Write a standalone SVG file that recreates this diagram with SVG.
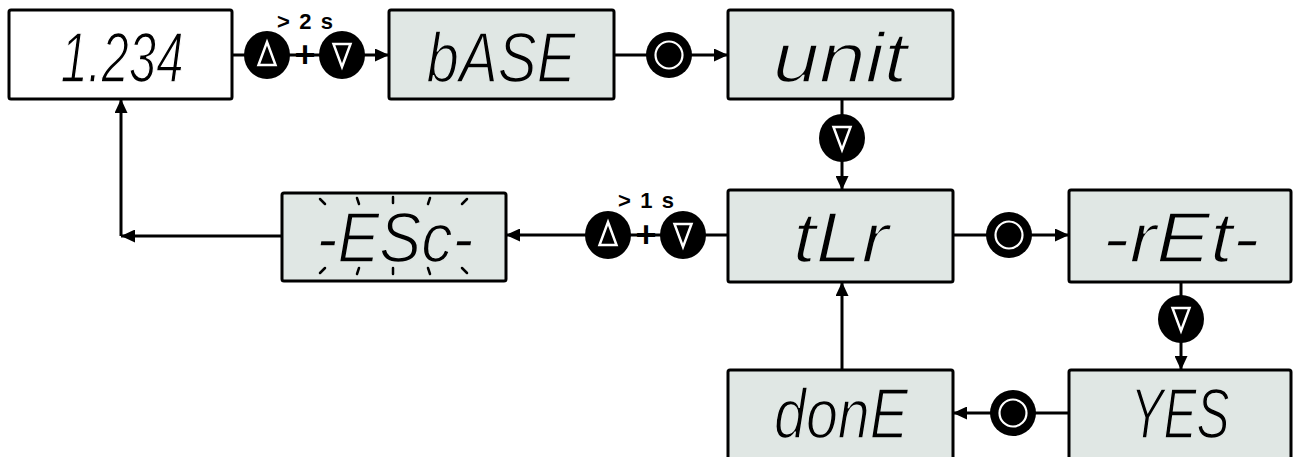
<svg xmlns="http://www.w3.org/2000/svg" width="1293" height="457" viewBox="0 0 1293 457">
  <style>
    .box { fill: #e0e7e4; stroke: #000; stroke-width: 3; }
    .box.white { fill: #fff; }
    .lcd { font-family: "Liberation Sans Narrow", "Liberation Sans", Arial, sans-serif; font-style: italic; font-size: 70px; fill: #000; text-anchor: middle; stroke: #e0e7e4; stroke-width: 1.6; }
    .lcd.onwhite { stroke: #fff; }
    .wire { fill: none; stroke: #000; stroke-width: 3; }
    .key { fill: #000; }
    .sym { fill: none; stroke: #fff; stroke-width: 2.5; stroke-linejoin: miter; }
    .ring { fill: #000; stroke: #fff; stroke-width: 2.2; }
    .hold { font-family: "Liberation Sans", Arial, sans-serif; font-weight: bold; font-size: 22px; fill: #000; text-anchor: middle; }
    .plus { font-family: "Liberation Sans", Arial, sans-serif; font-weight: bold; font-size: 36px; fill: #000; text-anchor: middle; }
    .blink { fill: none; stroke: #000; stroke-width: 2.5; stroke-linecap: round; }
  </style>
  <defs>
    <marker id="ah" viewBox="0 0 14 13" refX="14" refY="6.5" markerWidth="14" markerHeight="13" markerUnits="userSpaceOnUse" orient="auto">
      <path d="M0,0 L14,6.5 L0,13 z" fill="#000"/>
    </marker>
    <!-- push-button symbols, drawn around (0,0) -->
    <g id="keyUp">
      <ellipse class="key" cx="0" cy="0" rx="23" ry="24"/>
      <path class="sym" d="M0,-13 L8.5,10 L-8.5,10 z"/>
    </g>
    <g id="keyDown">
      <ellipse class="key" cx="0" cy="0" rx="23" ry="24"/>
      <path class="sym" d="M-8.5,-11 L8.5,-11 L0,12 z"/>
    </g>
    <g id="keySet">
      <ellipse class="key" cx="0" cy="0" rx="23" ry="23"/>
      <circle class="ring" cx="0" cy="0" r="13.5"/>
    </g>
  </defs>

  <!-- connectors -->
  <g id="connectors">
    <path class="wire" d="M232,55 H389" marker-end="url(#ah)"/>
    <path class="wire" d="M614,55 H728" marker-end="url(#ah)"/>
    <path class="wire" d="M842,99 V190" marker-end="url(#ah)"/>
    <path class="wire" d="M953,235 H1069" marker-end="url(#ah)"/>
    <path class="wire" d="M1181,283 V370" marker-end="url(#ah)"/>
    <path class="wire" d="M1069,413 H953" marker-end="url(#ah)"/>
    <path class="wire" d="M842,370 V282" marker-end="url(#ah)"/>
    <path class="wire" d="M728,235 H506" marker-end="url(#ah)"/>
    <path class="wire" d="M282,236 H121" marker-end="url(#ah)"/>
    <path class="wire" d="M121,236 V99" marker-end="url(#ah)"/>
  </g>

  <!-- key presses on the connectors -->
  <g id="keys">
    <g id="key-enter-menu">
      <use href="#keyUp" x="267" y="55"/>
      <text class="plus" x="305" y="67">+</text>
      <use href="#keyDown" x="342" y="55"/>
      <text class="hold" x="305" y="29" textLength="56" lengthAdjust="spacing">&gt; 2 s</text>
    </g>
    <g id="key-base"><use href="#keySet" x="669" y="55"/></g>
    <g id="key-unit"><use href="#keyDown" x="842" y="138"/></g>
    <g id="key-tlr"><use href="#keySet" x="1009" y="235"/></g>
    <g id="key-ret"><use href="#keyDown" x="1181" y="319"/></g>
    <g id="key-yes"><use href="#keySet" x="1013" y="413"/></g>
    <g id="key-exit">
      <use href="#keyUp" x="608" y="235"/>
      <text class="plus" x="646" y="247">+</text>
      <use href="#keyDown" x="683" y="235"/>
      <text class="hold" x="646" y="208" textLength="56" lengthAdjust="spacing">&gt; 1 s</text>
    </g>
  </g>

  <!-- display states -->
  <g id="node-value">
    <rect class="box white" x="9" y="10" width="223" height="89" rx="2"/>
    <text class="lcd onwhite" x="122" y="82" textLength="123" lengthAdjust="spacingAndGlyphs">1.234</text>
  </g>
  <g id="node-base">
    <rect class="box" x="389" y="10" width="225" height="89" rx="2"/>
    <text class="lcd" x="501" y="82" textLength="149" lengthAdjust="spacingAndGlyphs">bASE</text>
  </g>
  <g id="node-unit">
    <rect class="box" x="728" y="10" width="225" height="89" rx="2"/>
    <text class="lcd" x="840" y="82" textLength="134" lengthAdjust="spacingAndGlyphs">unit</text>
  </g>
  <g id="node-tlr">
    <rect class="box" x="728" y="190" width="225" height="92" rx="2"/>
    <text class="lcd" x="841" y="262" textLength="96" lengthAdjust="spacingAndGlyphs">tLr</text>
  </g>
  <g id="node-ret">
    <rect class="box" x="1069" y="190" width="222" height="92" rx="2"/>
    <text class="lcd" x="1181" y="262" textLength="157" lengthAdjust="spacingAndGlyphs">-rEt-</text>
  </g>
  <g id="node-yes">
    <rect class="box" x="1069" y="370" width="222" height="95" rx="2"/>
    <text class="lcd" x="1180" y="438" textLength="99" lengthAdjust="spacingAndGlyphs">YES</text>
  </g>
  <g id="node-done">
    <rect class="box" x="728" y="370" width="225" height="95" rx="2"/>
    <text class="lcd" x="841" y="438" textLength="134" lengthAdjust="spacingAndGlyphs">donE</text>
  </g>
  <g id="node-esc">
    <rect class="box" x="282" y="193" width="224" height="88" rx="2"/>
    <text class="lcd" x="395" y="262" textLength="157" lengthAdjust="spacingAndGlyphs">-ESc-</text>
    <!-- flashing marks -->
    <path class="blink" d="M320,199 L325,204 M357,198 L359,204 M393,197 V203 M430,198 L428,204 M467,199 L462,204"/>
    <path class="blink" d="M325,268 L320,273 M359,268 L357,274 M393,268 V274 M428,268 L430,274 M462,268 L467,273"/>
  </g>
</svg>
